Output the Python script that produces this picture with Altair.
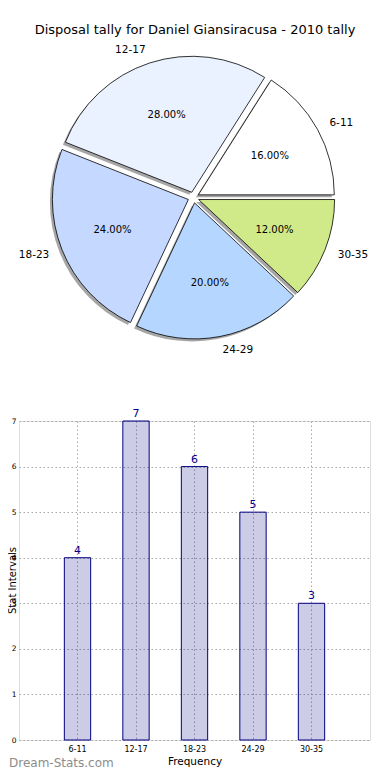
import math
import altair as alt
import pandas as pd

# ---------------- data ----------------
categories = ["6-11", "12-17", "18-23", "24-29", "30-35"]
values = [4, 7, 6, 5, 3]
slice_colors = ["#FFFFFF", "#EBF2FF", "#C5D8FF", "#B5D6FF", "#D0EA8A"]
y_ticks = [0, 1, 2, 3, 4, 5, 6, 7]
title_text = ["Disposal tally for Daniel Giansiracusa - 2010 tally"]
x_title = "Frequency"
y_title = ["Stat Intervals"]
watermark = ["Dream-Stats.com"]

df = pd.DataFrame({"category": categories, "value": values,
                   "idx": list(range(len(categories)))})
total = sum(values)

# ---------------- layout ----------------
W, H = 351, 319          # bar plot area
CX, CY = 174.5, -223.5   # pie centre, relative to bar plot origin
R = 136
EXP = 5.5
SH = 2.5
FONT = "DejaVu Sans"

pie_base = (
    alt.Chart(df)
    .transform_window(cum="sum(value)", sort=[alt.SortField("idx")], frame=[None, 0])
    .transform_calculate(
        cum0="datum.cum - datum.value",
        mid=f"2 * PI * (datum.cum - datum.value / 2) / {total}",
        pct=f"format(datum.value / {total} * 100, '.2f') + '%'",
    )
    .transform_calculate(
        ex=f"{CX} + {EXP} * cos(datum.mid)",
        ey=f"{CY} - {EXP} * sin(datum.mid)",
    )
    .transform_calculate(
        sx=f"datum.ex - {SH}",
        sy=f"datum.ey + {SH}",
        px=f"datum.ex + {0.6 * R} * cos(datum.mid)",
        py=f"datum.ey - {0.6 * R} * sin(datum.mid)",
        lx=f"datum.ex + {1.1 * R} * cos(datum.mid)",
        ly=f"datum.ey - {1.1 * R} * sin(datum.mid)",
        side="cos(datum.mid) > 0 ? 'r' : 'l'",
    )
)

theta_scale = alt.Scale(domain=[0, total], range=[2.5 * math.pi, 0.5 * math.pi])
theta = alt.Theta("cum0:Q", scale=theta_scale, stack=None)
theta2 = alt.Theta2("cum:Q")

shadow = pie_base.mark_arc(radius=R, fill="#4d4d4d", fillOpacity=0.5).encode(
    theta=theta, theta2=theta2,
    x=alt.X("sx:Q", scale=None, axis=None),
    y=alt.Y("sy:Q", scale=None, axis=None),
)
slices = pie_base.mark_arc(radius=R, stroke="black", strokeWidth=0.8).encode(
    theta=theta, theta2=theta2,
    x=alt.X("ex:Q", scale=None, axis=None),
    y=alt.Y("ey:Q", scale=None, axis=None),
    fill=alt.Fill("category:N", scale=alt.Scale(domain=categories, range=slice_colors), legend=None),
)
pct_text = pie_base.mark_text(font=FONT, fontSize=10, color="black", align="center",
                              baseline="middle").encode(
    x=alt.X("px:Q", scale=None, axis=None),
    y=alt.Y("py:Q", scale=None, axis=None),
    text="pct:N",
)
lab_right = pie_base.transform_filter("datum.side == 'r'").mark_text(
    font=FONT, fontSize=10.5, color="black", align="left", baseline="middle").encode(
    x=alt.X("lx:Q", scale=None, axis=None),
    y=alt.Y("ly:Q", scale=None, axis=None),
    text="category:N",
)
lab_left = pie_base.transform_filter("datum.side == 'l'").mark_text(
    font=FONT, fontSize=10.5, color="black", align="right", baseline="middle").encode(
    x=alt.X("lx:Q", scale=None, axis=None),
    y=alt.Y("ly:Q", scale=None, axis=None),
    text="category:N",
)

# ---------------- bar chart ----------------
x_enc = alt.X(
    "category:N", sort=categories,
    scale=alt.Scale(paddingInner=0.55, paddingOuter=0.775),
    axis=alt.Axis(title=x_title, labelAngle=0, labelFont=FONT, labelFontSize=8,
                  labelColor="black", labelPadding=5, ticks=False, domain=False,
                  grid=True, gridDash=[1.5, 2.5], gridColor="#a8a8a8", gridWidth=1,
                  bandPosition=0.5, titleFont=FONT, titleFontSize=10.5,
                  titleFontWeight="normal", titleColor="black", titlePadding=3),
)
y_enc = alt.Y(
    "value:Q",
    scale=alt.Scale(domain=[min(y_ticks), max(y_ticks)], nice=False),
    axis=alt.Axis(title=None, values=y_ticks, format="d", labelFont=FONT, labelFontSize=7.5,
                  labelColor="black", labelPadding=3, ticks=False, domain=False,
                  grid=True, gridDash=[1.5, 2.5], gridColor="#a8a8a8", gridWidth=1),
)
bars = alt.Chart(df).mark_bar(fill="#000080", fillOpacity=0.2, stroke="#000080",
                              strokeWidth=1).encode(x=x_enc, y=y_enc)
bar_labels = alt.Chart(df).mark_text(font=FONT, fontSize=11, color="#00008B",
                                     baseline="bottom", dy=-2).encode(
    x=x_enc, y=y_enc, text="value:Q")
bar_layer = alt.layer(bars, bar_labels)

# ---------------- free texts ----------------
title_mark = alt.Chart(pd.DataFrame({"t": title_text})).mark_text(
    font=FONT, fontSize=13, color="black", align="center", baseline="middle").encode(
    text="t:N", x=alt.value(176), y=alt.value(-391))
ytitle_mark = alt.Chart(pd.DataFrame({"t": y_title})).mark_text(
    font=FONT, fontSize=10, color="black", align="center", baseline="alphabetic",
    angle=270).encode(text="t:N", x=alt.value(-3), y=alt.value(H / 2))
wm_mark = alt.Chart(pd.DataFrame({"t": watermark})).mark_text(
    font=FONT, fontSize=12, color="#8c8c8c", align="left", baseline="alphabetic").encode(
    text="t:N", x=alt.value(-10), y=alt.value(346))

chart = (
    alt.layer(shadow, slices, pct_text, lab_right, lab_left, bar_layer,
              title_mark, ytitle_mark, wm_mark)
    .resolve_scale(x="independent", y="independent")
    .properties(width=W, height=H, autosize="none",
                padding={"left": 11, "top": 413, "right": 12, "bottom": 32})
    .configure_view(stroke="black", strokeWidth=1)
    .configure(background="white")
)

chart.save("out.html", embed_options={"renderer": "svg", "actions": False})
